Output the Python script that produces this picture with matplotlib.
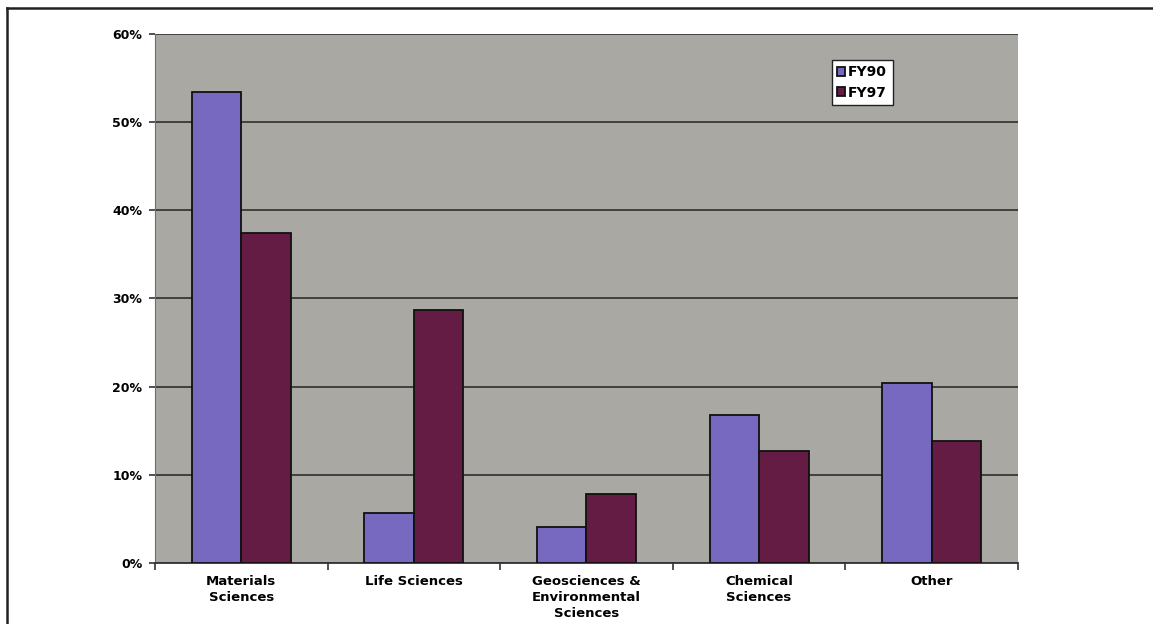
import matplotlib.pyplot as plt
import numpy as np
from matplotlib.lines import Line2D
from matplotlib.ticker import PercentFormatter

plt.rcParams['font.family'] = ['DejaVu Sans']

categories = ["Materials\nSciences", "Life Sciences",
              "Geosciences &\nEnvironmental\nSciences", "Chemical\nSciences", "Other"]
fy90 = [53.4, 5.7, 4.1, 16.8, 20.4]
fy97 = [37.4, 28.7, 7.8, 12.7, 13.8]
series_names = ["FY90", "FY97"]
yticks = [0, 10, 20, 30, 40, 50, 60]

color90 = "#7768c0"
color97 = "#641c44"
plot_bg = "#aaa8a3"

fig = plt.figure(figsize=(11.53, 6.24), dpi=100)
fig.patch.set_facecolor("white")
ax = fig.add_axes([0.1344, 0.0978, 0.7485, 0.8478])
ax.set_facecolor(plot_bg)

x = np.arange(len(categories))
w = 0.287
ax.bar(x - w / 2, fy90, width=w, color=color90, edgecolor="#111111",
       linewidth=1.3, label=series_names[0], zorder=3)
ax.bar(x + w / 2, fy97, width=w, color=color97, edgecolor="#111111",
       linewidth=1.3, label=series_names[1], zorder=3)

ax.set_xlim(-0.5, len(categories) - 0.5)
ax.set_ylim(0, 60)
ax.set_yticks(yticks)
ax.yaxis.set_major_formatter(PercentFormatter(decimals=0))
ax.yaxis.grid(True, color="#2e2e2e", linewidth=1.2, zorder=1)
ax.set_axisbelow(True)

# category labels centred between boundary ticks
ax.set_xticks(x)
ax.set_xticklabels(categories, fontsize=9.5, fontweight="bold",
                   linespacing=1.3)
ax.tick_params(axis="x", length=0, pad=9)
ax.set_xticks(np.arange(len(categories) + 1) - 0.5, minor=True)
ax.tick_params(axis="x", which="minor", length=5, width=1.2,
               color="#333333", direction="out")
ax.tick_params(axis="y", length=4, width=1.2, color="#333333",
               labelsize=9, pad=5)
for lbl in ax.get_yticklabels():
    lbl.set_fontweight("bold")

for side in ("top", "right"):
    ax.spines[side].set_visible(False)
ax.spines["left"].set_color("#6a6a80")
ax.spines["left"].set_linewidth(0.8)
ax.spines["bottom"].set_color("#333333")
ax.spines["bottom"].set_linewidth(1.3)

leg = ax.legend(loc="upper left", bbox_to_anchor=(0.784, 0.951),
                prop={"weight": "bold", "size": 10}, frameon=True,
                fancybox=False, framealpha=1.0, handlelength=0.6,
                handleheight=0.6, handletextpad=0.2, borderpad=0.4,
                labelspacing=0.45, borderaxespad=0)
leg.get_frame().set_edgecolor("#222222")
leg.get_frame().set_linewidth(1.0)
leg.get_frame().set_facecolor("white")

# page frame lines along the top and left edges
fig.add_artist(Line2D([7 / 1153, 1.0], [1 - 8 / 624, 1 - 8 / 624],
                      transform=fig.transFigure, color="#222222", linewidth=1.8))
fig.add_artist(Line2D([7 / 1153, 7 / 1153], [0.0, 1 - 8 / 624],
                      transform=fig.transFigure, color="#222222", linewidth=1.8))

fig.savefig("out.png", dpi=100, facecolor="white")
